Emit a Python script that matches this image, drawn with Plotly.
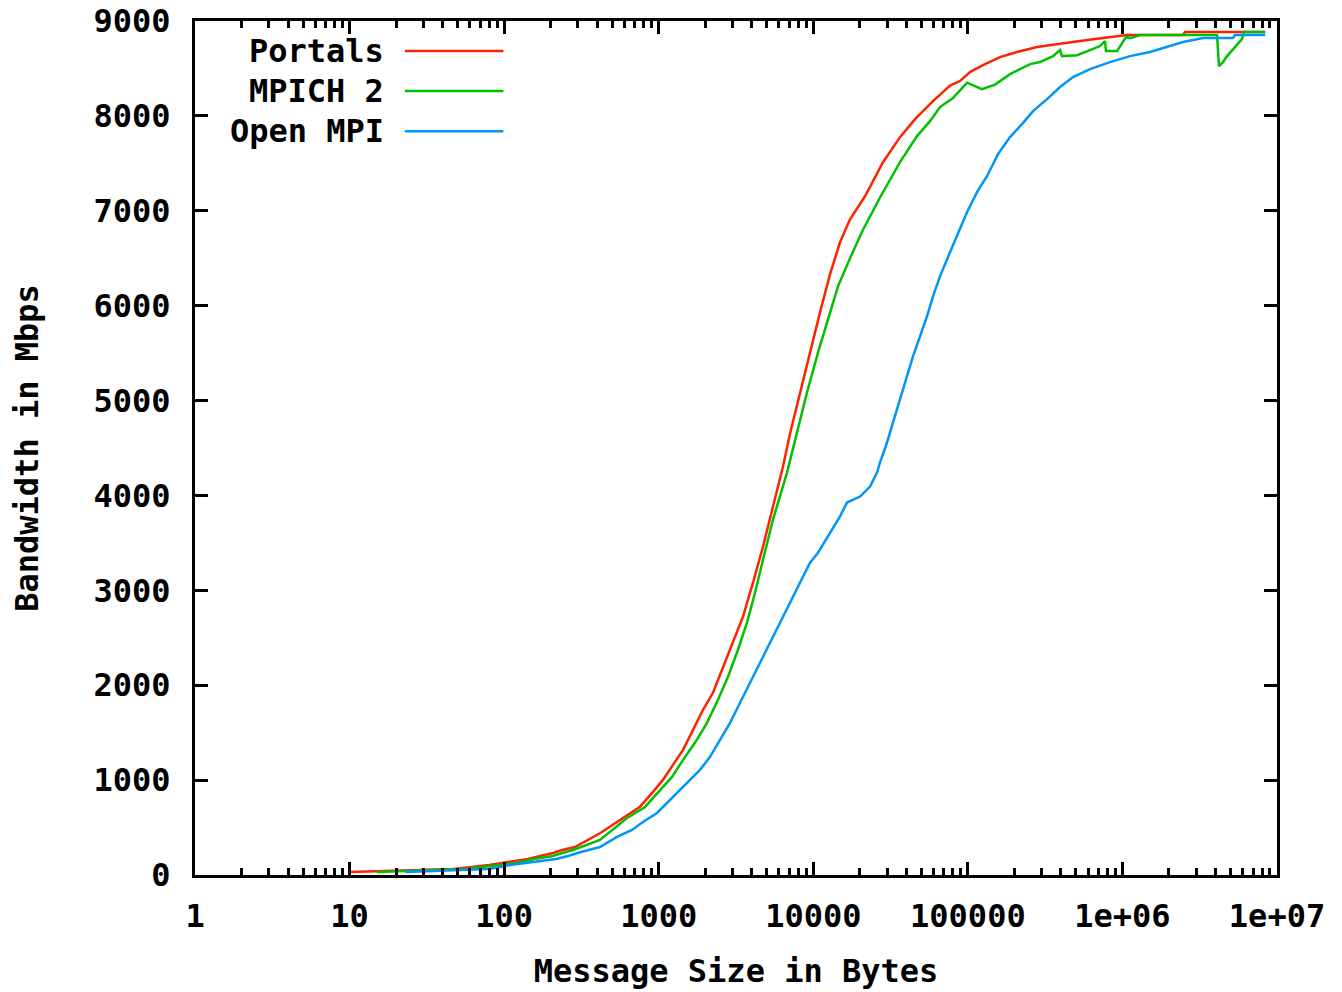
import plotly.graph_objects as go

# ---- data (message size in bytes, bandwidth in Mbps) ----
portals_size = [10, 47, 80, 109, 143, 171, 207, 237, 287,
                417, 522, 652, 757, 919, 1066, 1237, 1436, 1667, 1934,
                2245, 2606, 3024, 3510, 4074, 4728, 5487, 6371, 7069, 8205,
                9524, 11056, 12830, 14893, 17283, 21610, 28260, 36400, 45510, 59500,
                76650, 88950, 103250, 125300, 161400, 208000, 280300, 377500, 531700, 748800,
                1070500, 2466000, 2540000, 8388608]
portals_bw = [32, 63, 105, 137, 169, 200, 232, 264, 295,
              440, 545, 650, 720, 876, 1002, 1161, 1319, 1530, 1741,
              1920, 2195, 2448, 2722, 3081, 3461, 3883, 4305, 4650, 5085,
              5507, 5929, 6330, 6668, 6911, 7153, 7512, 7776, 7966, 8156,
              8320, 8367, 8462, 8535, 8620, 8673, 8725, 8757, 8789, 8820,
              8852, 8852, 8884, 8884]

mpich_size = [15, 56, 95, 130, 156, 207, 237, 279, 417, 522,
              624, 815, 1020, 1219, 1436, 1717, 2053, 2419, 2808, 3258,
              3726, 4198, 4728, 5487, 6761, 7847, 9108, 10729, 12452,
              14454, 17283, 20977, 27020, 36400, 46880, 56900, 66050, 80150, 98740,
              123500, 149900, 187400, 252500, 293000, 355600, 394800, 406600, 508400, 617000,
              716100, 771500, 783100, 922500, 1055000, 1119500, 1299000, 4092000, 4215000, 4474000,
              4749000, 5937000, 6116000, 8388608]
mpich_bw = [32, 63, 105, 137, 169, 200, 232, 264, 369, 496,
            601, 717, 897, 1034, 1213, 1393, 1604, 1846, 2089, 2374,
            2659, 2975, 3323, 3746, 4241, 4663, 5085, 5507, 5856,
            6204, 6500, 6800, 7140, 7512, 7787, 7945, 8093, 8187, 8350,
            8282, 8330, 8440, 8546, 8567, 8630, 8694, 8630, 8640, 8694,
            8736, 8789, 8683, 8683, 8831, 8820, 8852, 8852, 8525, 8567,
            8630, 8810, 8884, 8884]

openmpi_size = [23, 80, 109, 156, 217, 259, 310, 417, 537, 672,
                791, 975, 1237, 1524, 1850, 2147, 2492, 2893, 3357, 3896,
                4522, 5248, 6092, 7069, 8205, 9524, 10729, 12830, 14893, 16529,
                20061, 23280, 25850, 27020, 29990, 32800, 36400, 40400, 44170, 49020,
                54420, 59500, 66050, 76650, 88950, 98740, 114600, 133000, 156700, 187400,
                224000, 264000, 325200, 394800, 479000, 617000, 831200, 1119500, 1508000, 1943000,
                2466000, 3321000, 5193000, 5350000, 8388608]
openmpi_bw = [32, 63, 105, 137, 169, 200, 240, 295, 401, 475,
              559, 654, 823, 971, 1108, 1245, 1424, 1604, 1815, 2026,
              2237, 2448, 2659, 2870, 3081, 3292, 3397, 3608, 3780, 3925,
              3988, 4094, 4241, 4347, 4558, 4769, 5012, 5254, 5465, 5676,
              5887, 6098, 6309, 6563, 6805, 6985, 7196, 7364, 7597, 7776,
              7913, 8050, 8177, 8304, 8409, 8493, 8567, 8630, 8673, 8725,
              8778, 8820, 8820, 8852, 8852]

series_names = ["Portals", "MPICH 2", "Open MPI"]
series_colors = ["#ff2200", "#00c000", "#0096f8"]

x_tickvals = [1, 10, 100, 1000, 10000, 100000, 1000000, 10000000]
x_ticktext = ["1", "10", "100", "1000", "10000", "100000", "1e+06", "1e+07"]
y_tickvals = [0, 1000, 2000, 3000, 4000, 5000, 6000, 7000, 8000, 9000]
y_ticktext = ["0", "1000", "2000", "3000", "4000", "5000", "6000", "7000", "8000", "9000"]

FONT = "DejaVu Sans Mono"
FSIZE = 32

fig = go.Figure()
for name, xs, ys, col in zip(series_names,
                             [portals_size, mpich_size, openmpi_size],
                             [portals_bw, mpich_bw, openmpi_bw],
                             series_colors):
    fig.add_trace(go.Scatter(x=xs, y=ys, mode="lines", name=name,
                             line=dict(color=col, width=2.5), showlegend=False))

minor_vals = [m * 10 ** d for d in range(0, 7) for m in range(2, 10)]

fig.update_xaxes(type="log", range=[0, 7], automargin=False,
                 tickmode="array", tickvals=x_tickvals, ticktext=x_ticktext,
                 ticks="inside", ticklen=13, tickwidth=2.5, tickcolor="black",
                 minor=dict(tickmode="array", tickvals=minor_vals, ticks="inside",
                            ticklen=7, tickwidth=2.5, tickcolor="black", showgrid=False),
                 showline=True, linecolor="black", linewidth=3, mirror="allticks",
                 showgrid=False, zeroline=False, ticklabelstandoff=11,
                 title=dict(text="Message Size in Bytes", standoff=26,
                            font=dict(family=FONT, size=FSIZE, weight="bold")))
fig.update_yaxes(range=[0, 9000], automargin=False,
                 tickmode="array", tickvals=y_tickvals, ticktext=y_ticktext,
                 ticks="inside", ticklen=13, tickwidth=2.5, tickcolor="black",
                 showline=True, linecolor="black", linewidth=3, mirror="allticks",
                 showgrid=False, zeroline=False, ticklabelstandoff=15,
                 title=dict(text="Bandwidth in Mbps", standoff=46,
                            font=dict(family=FONT, size=FSIZE, weight="bold")))

# gnuplot-style key: text right-aligned, line sample on the right
key_y = [0.965, 0.918, 0.871]
for name, col, ky in zip(series_names, series_colors, key_y):
    fig.add_annotation(xref="paper", yref="paper", x=0.1765, y=ky, text=name,
                       showarrow=False, xanchor="right", yanchor="middle",
                       font=dict(family=FONT, size=FSIZE, color="black", weight="bold"))
    fig.add_shape(type="line", xref="paper", yref="paper", x0=0.194, x1=0.285,
                  y0=ky, y1=ky, line=dict(color=col, width=2.5))

fig.update_layout(width=1342, height=992,
                  margin=dict(l=195, r=65, t=21, b=117, autoexpand=False),
                  plot_bgcolor="white", paper_bgcolor="white",
                  font=dict(family=FONT, size=FSIZE, color="black", weight="bold"),
                  showlegend=False)

fig.write_html("out.html", config={"displayModeBar": False},
               post_script="document.body.style.margin='0px';document.body.style.overflow='hidden';")
